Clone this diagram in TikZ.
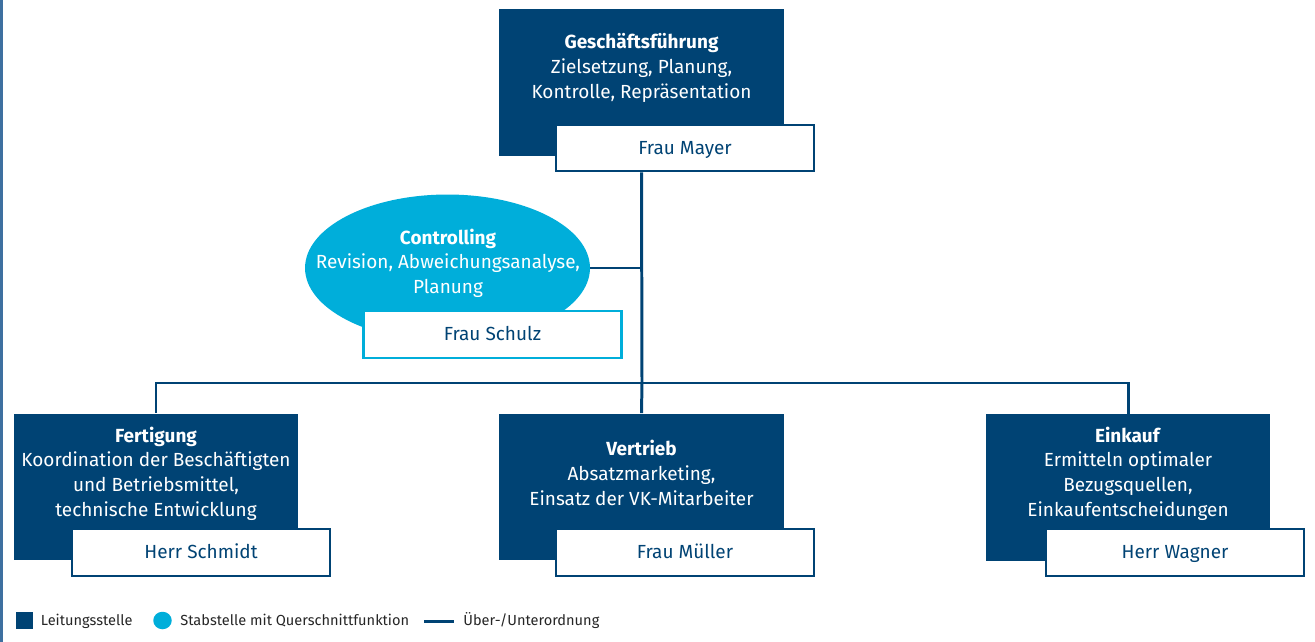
\documentclass[tikz,border=0pt]{standalone}
\usepackage{fontspec}
\setmainfont{Fira Sans}
\usetikzlibrary{shapes.geometric}
\definecolor{leitung}{RGB}{0,67,116}
\definecolor{stab}{RGB}{0,174,218}
\definecolor{rand}{RGB}{62,112,160}

\begin{document}
\begin{tikzpicture}[x=0.02cm,y=-0.02cm,font=\fontsize{10.8}{14}\selectfont]
	
	% Styles for units, persons and lines
	\tikzset{
		lead/.style={rectangle,fill=leitung,minimum width=5.7cm,minimum height=2.94cm,inner sep=0pt},
		stabell/.style={ellipse,fill=stab,minimum width=5.7cm,minimum height=2.94cm,inner sep=0pt},
		boxtext/.style={text=white,align=center,inner sep=0pt},
		person/.style={rectangle,draw=leitung,fill=white,line width=1.4pt,minimum width=5.16cm,minimum height=0.93cm,inner sep=0pt,text=leitung,text height=0.69em,text depth=0pt},
		link/.style={draw=leitung,line width=1.7pt},
		legtext/.style={anchor=west,inner sep=0pt,font=\fontsize{8.3}{10}\selectfont,text=black!85}
	}
	
	\useasboundingbox (0,0) rectangle (1315,642);
	\draw[rand,line width=1.2pt] (1.5,0) -- (1.5,642);
	
	%========================================
	% Top: Geschaeftsfuehrung
	%========================================
	\node[lead] (gf) at (641.5,82.5) {};
	\node[boxtext] (gftext) at (641.5,68)
	{\textbf{Geschäftsführung}\\Zielsetzung, Planung,\\Kontrolle, Repräsentation};
	\node[person] (mayer) at (685,148) {Frau Mayer};
	
	%========================================
	% Staff unit: Controlling
	%========================================
	\node[stabell] (ctrl) at (447.5,268) {};
	\node[boxtext] (ctrltext) at (448,263)
	{\textbf{Controlling}\\Revision, Abweichungsanalyse,\\Planung};
	\node[person,draw=stab] (schulz) at (492.5,334.5) {Frau Schulz};
	
	%========================================
	% Bottom: Fertigung, Vertrieb, Einkauf
	%========================================
	\node[lead] (fert) at (156,487) {};
	\node[boxtext] (ferttext) at (156,473.5)
	{\textbf{Fertigung}\\Koordination der Beschäftigten\\und Betriebsmittel,\\technische Entwicklung};
	\node[person] (schmidt) at (201,552.5) {Herr Schmidt};
	
	\node[lead] (vert) at (641.5,487) {};
	\node[boxtext] (verttext) at (641.5,473)
	{\textbf{Vertrieb}\\Absatzmarketing,\\Einsatz der VK-Mitarbeiter};
	\node[person] (mueller) at (685,552.5) {Frau Müller};
	
	\node[lead] (eink) at (1128,487.5) {};
	\node[boxtext] (einktext) at (1128,473.5)
	{\textbf{Einkauf}\\Ermitteln optimaler\\Bezugsquellen,\\Einkaufentscheidungen};
	\node[person] (wagner) at (1175,552.5) {Herr Wagner};
	
	% Lines: Ueber-/Unterordnung
	\coordinate (hub) at (642,383);
	\draw[link] (gf.center |- mayer.south) -- (hub);
	\draw[link] (ctrl.east) -- (ctrl.east -| hub);
	\draw[link] (fert.north) -- (fert.north |- hub) -- (eink.north |- hub) -- (eink.north);
	\draw[link] (hub) -- (vert.north);
	
	%========================================
	% Legend
	%========================================
	\node[fill=leitung,minimum width=0.36cm,minimum height=0.34cm,inner sep=0pt] (legl) at (24.5,620.5) {};
	\node[legtext] (legltext) at (40.5,621) {Leitungsstelle};
	\node[ellipse,fill=stab,minimum width=0.37cm,minimum height=0.35cm,inner sep=0pt] (legs) at (162.5,620.5) {};
	\node[legtext] (legstext) at (180,621) {Stabstelle mit Querschnittfunktion};
	\coordinate (legla) at (424,621.5);
	\coordinate (leglb) at (454,621.5);
	\draw[link] (legla) -- (leglb);
	\node[legtext] (legutext) at (463,621) {Über-/Unterordnung};
	
\end{tikzpicture}
\end{document}
